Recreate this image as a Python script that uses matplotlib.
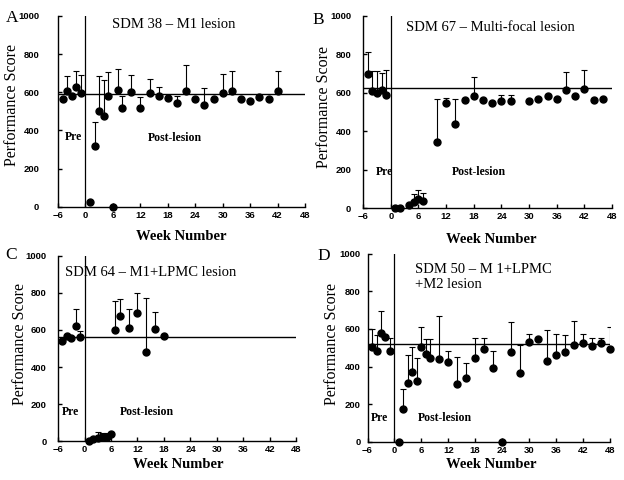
import numpy as np
import matplotlib
matplotlib.use('Agg')
import matplotlib.pyplot as plt

# ---- data (weeks, mean score, top of error bar; None = no bar)
weeks_a = [-5, -4, -3, -2, -1, 1, 2, 3, 4, 5, 6, 7, 8, 10, 12, 14, 16, 18, 20,
           22, 24, 26, 28, 30, 32, 34, 36, 38, 40, 42]
score_a = [563, 607, 578, 625, 598, 24, 318, 502, 478, 579, 0, 610, 519, 600, 515,
           598, 582, 571, 545, 606, 564, 534, 567, 596, 608, 565, 556, 576, 567, 608]
top_a = [None, 685, None, 712, 690, None, 443, 685, 662, 707, None, 722, 582, 688,
         577, 671, 625, None, 580, 745, None, 623, None, 697, 710, None, None, None,
         None, 710]
mean_a = 590

weeks_b = [-5, -4, -3, -2, -1, 1, 2, 4, 5, 6, 7, 10, 12, 14, 16, 18, 20, 22, 24,
           26, 30, 32, 34, 36, 38, 40, 42, 44, 46]
score_b = [697, 609, 597, 614, 590, 2, 2, 16, 31, 47, 36, 343, 548, 438, 564, 585,
           564, 545, 559, 559, 555, 569, 583, 569, 614, 583, 618, 564, 567]
top_b = [810, 712, 712, 704, 721, None, None, None, 73, 95, 81, 567, 574, 566, None,
         683, None, None, 588, 588, None, None, None, None, 709, None, 718, None, None]
mean_b = 623

weeks_c = [-5, -4, -3, -2, -1, 1, 2, 3, 4, 5, 6, 7, 8, 10, 12, 14, 16, 18]
score_c = [540, 567, 559, 622, 563, 0, 10, 18, 22, 20, 40, 600, 676, 611, 689, 482,
           603, 567]
top_c = [None, None, None, 712, 594, None, None, 50, 45, 45, 50, 757, 765, 711, 800,
         775, 698, None]
mean_c = 563

weeks_d = [-5, -4, -3, -2, -1, 1, 2, 3, 4, 5, 6, 7, 8, 10, 12, 14, 16, 18, 20, 22,
           24, 26, 28, 30, 32, 34, 36, 38, 40, 42, 44, 46, 48]
score_d = [506, 485, 578, 559, 485, 0, 173, 311, 370, 323, 506, 466, 448, 439, 423,
           307, 337, 448, 494, 394, 0, 478, 364, 533, 545, 430, 462, 476, 513, 524,
           510, 524, 496]
top_d = [599, 568, 696, None, 551, None, 279, 462, 506, 444, 613, 546, 546, 670, 483,
         449, 421, 554, 554, 483, None, 636, 513, 572, None, 595, 574, 568, 643, 572,
         554, 554, 613]
mean_d = 520

week_ticks = [-6, 0, 6, 12, 18, 24, 30, 36, 42, 48]
score_ticks = [0, 200, 400, 600, 800, 1000]

SERIF = 'Liberation Serif'
SANS = 'Liberation Sans'


def draw_panel(ax, weeks, score, top, mean, title, letter, letter_xy,
               title_xy, pre_xy, post_xy, ypad, xlab_xy, ylab_xy):
    weeks = np.array(weeks, dtype=float)
    score = np.array(score, dtype=float)
    has = np.array([t is not None for t in top])
    tops = np.array([t if t is not None else 0 for t in top], dtype=float)

    ax.axhline(mean, color='black', lw=1.0, zorder=1)
    ax.axvline(0, color='black', lw=0.9, zorder=1)
    err = tops[has] - score[has]
    ax.errorbar(weeks[has], score[has], yerr=[np.zeros_like(err), err],
                fmt='none', ecolor='black', elinewidth=0.8, capsize=2.2,
                capthick=0.8, zorder=2)
    ax.plot(weeks, score, 'o', color='black', ms=5, zorder=3, clip_on=False)

    ax.set_xlim(-6, 48)
    ax.set_ylim(0, 1000)
    ax.set_xticks(week_ticks)
    ax.set_yticks(score_ticks)
    for s in ['top', 'right']:
        ax.spines[s].set_visible(False)
    for s in ['left', 'bottom']:
        ax.spines[s].set_linewidth(1.0)
    ax.tick_params(axis='both', direction='in', length=3, width=1.0)
    ax.tick_params(axis='y', pad=ypad)
    ax.tick_params(axis='x', pad=3)
    for lab in ax.get_xticklabels() + ax.get_yticklabels():
        lab.set_family(SANS)
        lab.set_fontweight('bold')
        lab.set_fontsize(6.8)

    ax.set_xlabel('Week Number', family=SERIF, fontweight='bold', fontsize=10.5)
    ax.xaxis.set_label_coords(*xlab_xy)
    ax.set_ylabel('Performance Score', family=SERIF, fontsize=11.5)
    ax.yaxis.set_label_coords(*ylab_xy)

    ax.text(title_xy[0], title_xy[1], title, family=SERIF, fontsize=10.5,
            ha='left', va='center', linespacing=1.25)
    ax.text(pre_xy[0], pre_xy[1], 'Pre', family=SERIF, fontweight='bold',
            fontsize=8.5, ha='left', va='center')
    ax.text(post_xy[0], post_xy[1], 'Post-lesion', family=SERIF,
            fontweight='bold', fontsize=8.5, ha='left', va='center')
    fig.text(letter_xy[0], letter_xy[1], letter, family=SERIF, fontsize=12.5,
             ha='left', va='center')


fig = plt.figure(figsize=(6.24, 4.8), dpi=100)
fig.patch.set_facecolor('white')

ax_a = fig.add_axes([0.093, 0.569, 0.396, 0.398])
ax_b = fig.add_axes([0.582, 0.566, 0.399, 0.401])
ax_c = fig.add_axes([0.093, 0.081, 0.382, 0.386])
ax_d = fig.add_axes([0.589, 0.080, 0.388, 0.391])

draw_panel(ax_a, weeks_a, score_a, top_a, mean_a, 'SDM 38 \u2013 M1 lesion', 'A',
           (0.009, 0.962), (5.7, 955), (-4.5, 367), (13.7, 362), 13.5,
           (0.497, -0.12), (-0.155, 0.533))
draw_panel(ax_b, weeks_b, score_b, top_b, mean_b,
           'SDM 67 \u2013 Multi-focal lesion', 'B',
           (0.501, 0.958), (3.2, 942), (-3.3, 190), (13.2, 190), 8.5,
           (0.514, -0.128), (-0.124, 0.527))
draw_panel(ax_c, weeks_c, score_c, top_c, mean_c,
           'SDM 64 \u2013 M1+LPMC lesion', 'C',
           (0.009, 0.469), (-4.5, 908), (-5.2, 158), (8.0, 158), 8.0,
           (0.503, -0.092), (-0.126, 0.523))
draw_panel(ax_d, weeks_d, score_d, top_d, mean_d,
           'SDM 50 \u2013 M 1+LPMC\n+M2 lesion', 'D',
           (0.509, 0.467), (4.5, 877), (-5.2, 128), (5.2, 128), 5.0,
           (0.51, -0.088), (-0.113, 0.52))

fig.savefig('out.png', dpi=100)
